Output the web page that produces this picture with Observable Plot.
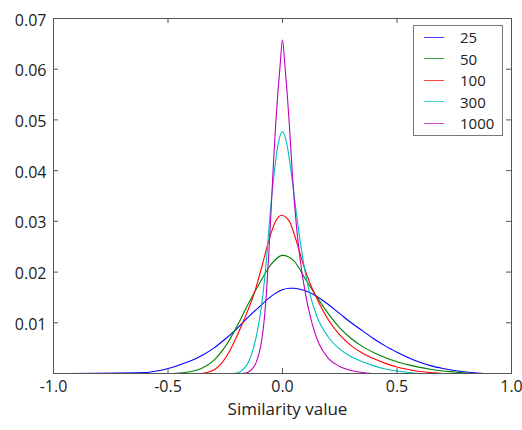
<!DOCTYPE html>
<html>
<head>
<meta charset="utf-8">
<script src="https://cdn.jsdelivr.net/npm/d3@7"></script>
<script src="https://cdn.jsdelivr.net/npm/@observablehq/plot@0.6"></script>
<style>
  html, body { margin: 0; padding: 0; background: white; }
  #wrap { position: relative; width: 522px; height: 430px; font-family: "Open Sans", sans-serif; }
  #legend { position: absolute; left: 413px; top: 25px; width: 90px; height: 111px; border: 1px solid #777; background: white; box-sizing: border-box; }
  .lg-line { position: absolute; left: 10px; width: 20px; height: 1px; }
  .lg-text { position: absolute; left: 46px; font-size: 15px; line-height: 16px; color: #222; }
</style>
</head>
<body>
<div id="wrap"></div>
<script>
// Series labels and colours
const labels = ["25", "50", "100", "300", "1000"];
const colors = ["#0000ff", "#008000", "#ff0000", "#00bfbf", "#bf00bf"];

// Tick values
const xTicks = [-1, -0.5, 0, 0.5, 1];
const yTicks = [0.01, 0.02, 0.03, 0.04, 0.05, 0.06, 0.07];

// Series values
const x25 = [-1, -0.6, -0.55, -0.5, -0.45, -0.4, -0.35, -0.3, -0.25, -0.2, -0.15, -0.1, -0.05, 0, 0.03, 0.05, 0.1, 0.15, 0.2, 0.25, 0.3, 0.35, 0.4, 0.45, 0.5, 0.55, 0.6, 0.65, 0.7, 0.75, 0.8, 0.85, 0.9, 1];
const y25 = [0, 0.0002, 0.0005, 0.001, 0.0017, 0.0025, 0.0036, 0.005, 0.0068, 0.0088, 0.0111, 0.0132, 0.0152, 0.0165, 0.0168, 0.0168, 0.0163, 0.0152, 0.0136, 0.0118, 0.0100, 0.0084, 0.0068, 0.0054, 0.0042, 0.0031, 0.0022, 0.0015, 0.001, 0.0006, 0.0003, 0.0001, 0, 0];

const x50 = [-1, -0.5, -0.45, -0.4, -0.35, -0.3, -0.25, -0.2, -0.15, -0.1, -0.05, 0, 0.05, 0.1, 0.15, 0.2, 0.25, 0.3, 0.35, 0.4, 0.45, 0.5, 0.55, 0.6, 0.65, 0.7, 0.75, 0.8, 0.85, 1];
const y50 = [0, 0, 0.0001, 0.0004, 0.0011, 0.0026, 0.0053, 0.0092, 0.0137, 0.0178, 0.0215, 0.0233, 0.0222, 0.0186, 0.0151, 0.0118, 0.0090, 0.0069, 0.0053, 0.0041, 0.0031, 0.0023, 0.0017, 0.0012, 0.0008, 0.0005, 0.0003, 0.0001, 0, 0];

const x100 = [-1, -0.36, -0.33, -0.3, -0.27, -0.24, -0.21, -0.18, -0.15, -0.12, -0.09, -0.06, -0.03, -0.005, 0.03, 0.06, 0.09, 0.12, 0.15, 0.2, 0.25, 0.3, 0.35, 0.4, 0.45, 0.5, 0.55, 0.6, 0.65, 0.7, 1];
const y100 = [0, 0, 0.0002, 0.0007, 0.0018, 0.0037, 0.0063, 0.0093, 0.0126, 0.0163, 0.0211, 0.0262, 0.0300, 0.0312, 0.0300, 0.0262, 0.0216, 0.0178, 0.0148, 0.0106, 0.0076, 0.0055, 0.0040, 0.0029, 0.0020, 0.0013, 0.0008, 0.0004, 0.0002, 0, 0];

const x300 = [-1, -0.22, -0.2, -0.18, -0.16, -0.145, -0.13, -0.115, -0.1, -0.085, -0.07, -0.055, -0.04, -0.02, 0, 0.02, 0.04, 0.06, 0.08, 0.1, 0.12, 0.15, 0.2, 0.25, 0.3, 0.35, 0.4, 0.45, 0.5, 0.55, 0.6, 1];
const y300 = [0, 0, 0.0001, 0.0005, 0.0014, 0.0026, 0.0045, 0.0072, 0.0108, 0.0158, 0.0225, 0.031, 0.038, 0.045, 0.0477, 0.045, 0.039, 0.0318, 0.0252, 0.0198, 0.0156, 0.0113, 0.0072, 0.0048, 0.0033, 0.0023, 0.0015, 0.0009, 0.0005, 0.0002, 0, 0];

const x1000 = [-1, -0.18, -0.16, -0.145, -0.13, -0.115, -0.1, -0.09, -0.08, -0.07, -0.06, -0.05, -0.04, -0.03, -0.02, -0.01, 0, 0.01, 0.02, 0.03, 0.045, 0.06, 0.08, 0.1, 0.12, 0.14, 0.16, 0.2, 0.25, 0.3, 0.35, 0.4, 1];
const y1000 = [0, 0, 0.0001, 0.0004, 0.001, 0.0022, 0.0044, 0.0068, 0.0105, 0.016, 0.0235, 0.032, 0.041, 0.049, 0.0555, 0.061, 0.0658, 0.061, 0.0555, 0.049, 0.038, 0.0295, 0.0215, 0.0158, 0.0115, 0.0082, 0.0058, 0.003, 0.0014, 0.0006, 0.0002, 0, 0];

const seriesX = [x25, x50, x100, x300, x1000];
const seriesY = [y25, y50, y100, y300, y1000];

const rows = [];
labels.forEach((s, i) => {
  seriesX[i].forEach((xv, j) => rows.push({series: s, x: xv, y: seriesY[i][j]}));
});

const W = 522, H = 430, ML = 53, MR = 11, MT = 18, MB = 57;
const fw = W - ML - MR, fh = H - MT - MB, tick = 5;

const chart = Plot.plot({
  width: W,
  height: H,
  marginLeft: ML,
  marginRight: MR,
  marginTop: MT,
  marginBottom: MB,
  style: {fontFamily: "Open Sans", fontSize: "16px", background: "white", color: "#222"},
  x: {domain: [-1, 1]},
  y: {domain: [0, 0.07]},
  color: {domain: labels, range: colors},
  marks: [
    Plot.line(rows, {x: "x", y: "y", z: "series", stroke: "series", curve: "monotone-x", strokeWidth: 1.1}),
    Plot.frame({stroke: "#555"}),
    // inward ticks on all four sides
    Plot.tickX(xTicks, {x: d => d, insetTop: fh - tick, stroke: "#555"}),
    Plot.tickX(xTicks, {x: d => d, insetBottom: fh - tick, stroke: "#555"}),
    Plot.tickY(yTicks, {y: d => d, insetRight: fw - tick, stroke: "#555"}),
    Plot.tickY(yTicks, {y: d => d, insetLeft: fw - tick, stroke: "#555"}),
    Plot.axisX({ticks: xTicks, anchor: "bottom", tickSize: 0, tickPadding: 7, tickFormat: d => d.toFixed(1), label: null}),
    Plot.axisY({ticks: yTicks, anchor: "left", tickSize: 0, tickPadding: 7, dy: 2, tickFormat: d => d.toFixed(2), label: null}),
    Plot.text(["Similarity value"], {frameAnchor: "bottom", dy: 41, dx: 5, fontSize: 17, fill: "#222"})
  ]
});

const wrap = document.getElementById("wrap");
wrap.appendChild(chart);

// Legend
const legend = d3.select(wrap).append("div").attr("id", "legend");
labels.forEach((s, i) => {
  const cy = 11 + 21.6 * i;
  legend.append("div").attr("class", "lg-line")
    .style("top", (cy - 0.5) + "px").style("background", colors[i]).style("opacity", 0.75);
  legend.append("div").attr("class", "lg-text")
    .style("top", (cy - 8) + "px").text(s);
});
</script>
</body>
</html>
